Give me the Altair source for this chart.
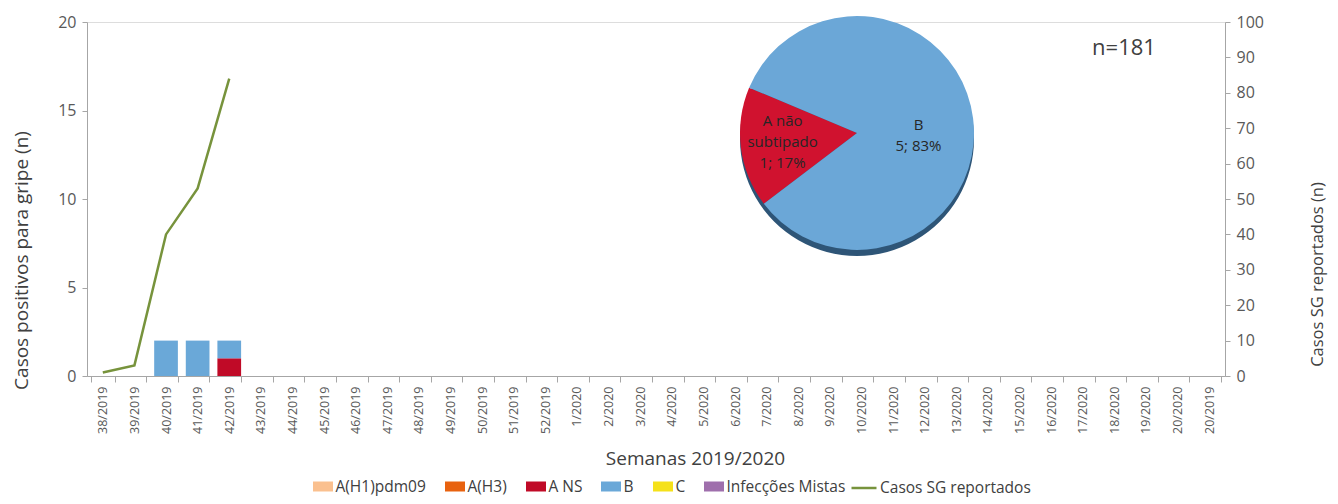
import altair as alt
import pandas as pd

# ---------------- data ----------------
semanas = ["38/2019", "39/2019", "40/2019", "41/2019", "42/2019", "43/2019", "44/2019",
           "45/2019", "46/2019", "47/2019", "48/2019", "49/2019", "50/2019", "51/2019",
           "52/2019", "1/2020", "2/2020", "3/2020", "4/2020", "5/2020", "6/2020", "7/2020",
           "8/2020", "9/2020", "10/2020", "11/2020", "12/2020", "13/2020", "14/2020",
           "15/2020", "16/2020", "17/2020", "18/2020", "19/2020", "20/2020", "20/2019"]

tipos = ["A(H1)pdm09", "A(H3)", "A NS", "B", "C", "Infecções Mistas"]
cores = ["#fac08f", "#e8620f", "#c00a27", "#6aa8d8", "#f5e11a", "#9f6fac"]

casos_a_ns = [0, 0, 0, 0, 1, 0, 0, 0, 0, 0, 0, 0, 0, 0, 0, 0, 0, 0,
              0, 0, 0, 0, 0, 0, 0, 0, 0, 0, 0, 0, 0, 0, 0, 0, 0, 0]
casos_b = [0, 0, 2, 2, 1, 0, 0, 0, 0, 0, 0, 0, 0, 0, 0, 0, 0, 0,
           0, 0, 0, 0, 0, 0, 0, 0, 0, 0, 0, 0, 0, 0, 0, 0, 0, 0]

sg_semanas = ["38/2019", "39/2019", "40/2019", "41/2019", "42/2019"]
sg_casos = [1, 3, 40, 53, 84]
sg_serie = "Casos SG reportados"
sg_cor = "#77933c"

pie_tipos = ["A NS", "B"]
pie_rotulos = ["A não\nsubtipado\n1; 17%", "B\n5; 83%"]
pie_valores = [1, 5]
pie_cores = ["#d0122f", "#6ba7d7"]
total_n = "n=181"

# ---------------- tables ----------------
rows = []
for s, a, b in zip(semanas, casos_a_ns, casos_b):
    if a:
        rows.append({"semana": s, "tipo": "A NS", "casos": a, "ordem": tipos.index("A NS")})
    if b:
        rows.append({"semana": s, "tipo": "B", "casos": b, "ordem": tipos.index("B")})
bar_df = pd.DataFrame(rows)
sg_df = pd.DataFrame({"semana": sg_semanas, "casos_sg": sg_casos, "serie": sg_serie})
pie_df = pd.DataFrame({"fatia": pie_tipos, "rotulo": pie_rotulos, "valor": pie_valores})

FONT = "Open Sans"
GRAY = "#a6a6a6"
LAB = "#595959"
TXT = "#404040"
RECT = "M-0.8,-0.4H0.8V0.4H-0.8Z"
LEG_Y = 452

color_scale = alt.Scale(domain=tipos, range=cores)
color_legend = alt.Legend(orient="none", legendX=223.5, legendY=LEG_Y, direction="horizontal",
                          title=None, symbolType=RECT, symbolSize=625,
                          symbolStrokeWidth=0, labelFontSize=15.5, labelColor=TXT,
                          labelFont=FONT, columnPadding=16, labelOffset=0)

x_enc = alt.X("semana:N", sort=semanas,
              scale=alt.Scale(domain=semanas, paddingInner=0.25, paddingOuter=0.125),
              axis=alt.Axis(title="Semanas 2019/2020", titleFontSize=19, titleFont=FONT,
                            titleFontWeight="normal", titleColor=TXT,
                            titleX=608, titleY=82, titleAlign="center", titleBaseline="middle",
                            labelAngle=270, labelFontSize=12.5, labelFont=FONT,
                            labelColor=LAB, labelPadding=4, tickBand="extent",
                            domainColor=GRAY, tickColor=GRAY, tickSize=6, grid=False))

bars = alt.Chart(bar_df).mark_bar().encode(
    x=x_enc,
    y=alt.Y("casos:Q", scale=alt.Scale(domain=[0, 20]),
            axis=alt.Axis(values=[0, 5, 10, 15, 20], title="Casos positivos para gripe (n)",
                          titleFontSize=19, titleFont=FONT, titleFontWeight="normal",
                          titleColor=TXT, titleX=-66, titleY=238, titleAngle=270,
                          titleAlign="center", titleBaseline="middle",
                          labelFontSize=16, labelFont=FONT, labelColor=LAB, labelPadding=6,
                          domainColor=GRAY, tickColor=GRAY, tickSize=5, grid=False)),
    color=alt.Color("tipo:N", scale=color_scale, legend=color_legend),
    order=alt.Order("ordem:Q"),
)

line = alt.Chart(sg_df).mark_line(strokeWidth=2.5).encode(
    x=x_enc,
    y=alt.Y("casos_sg:Q", scale=alt.Scale(domain=[0, 100]),
            axis=alt.Axis(orient="right", values=list(range(0, 101, 10)),
                          title="Casos SG reportados  (n)", titleFontSize=16.5, titleFont=FONT,
                          titleFontWeight="normal", titleColor=TXT, titleX=92, titleY=252,
                          titleAngle=270, titleAlign="center", titleBaseline="middle",
                          labelFontSize=16, labelFont=FONT, labelColor=LAB, labelPadding=6,
                          domainColor=GRAY, tickColor=GRAY, tickSize=5, grid=False)),
    stroke=alt.Stroke("serie:N", scale=alt.Scale(domain=[sg_serie], range=[sg_cor]),
                      legend=alt.Legend(orient="none", legendX=763, legendY=LEG_Y,
                                        title=None, symbolType="stroke", symbolSize=625,
                                        symbolStrokeWidth=2.5, labelFontSize=15.5,
                                        labelColor=TXT, labelFont=FONT, labelOffset=2)),
)

PX, PY, R = 770, 111, 117
theta_scale = alt.Scale(domain=[0, 6], range=[5.11, 5.11 + 6.28318])

shadow = alt.Chart(pd.DataFrame({"k": [0]})).mark_arc(
    radius=R, theta=0, theta2=6.28318, color="#2e5577"
).encode(x=alt.value(PX), y=alt.value(PY + 6))

pie = alt.Chart(pie_df).mark_arc(radius=R).encode(
    x=alt.value(PX), y=alt.value(PY),
    theta=alt.Theta("valor:Q", stack=True, scale=theta_scale),
    fill=alt.Fill("fatia:N", scale=alt.Scale(domain=pie_tipos, range=pie_cores), legend=None),
    order=alt.Order("fatia:N", sort="descending"),
)


def pie_label(fatia, r, dy):
    return alt.Chart(pie_df).transform_window(
        acum="sum(valor)", sort=[alt.SortField("fatia", order="descending")]
    ).transform_calculate(
        meio="datum.acum - datum.valor / 2"
    ).transform_filter(alt.datum.fatia == fatia).mark_text(
        lineBreak="\n", fontSize=15, lineHeight=21, font=FONT, color="#262626",
        baseline="middle", align="center", radius=r, dy=dy
    ).encode(
        x=alt.value(PX), y=alt.value(PY),
        theta=alt.Theta("meio:Q", stack=None, scale=theta_scale),
        text="rotulo:N",
    )


lab_b = pie_label("B", 62, 0)
lab_a = pie_label("A NS", 75, -21)

n_text = alt.Chart(pd.DataFrame({"t": [total_n]})).mark_text(
    fontSize=22, font=FONT, color=TXT, align="center", baseline="middle"
).encode(x=alt.value(1037), y=alt.value(26), text="t:N")

chart = alt.layer(bars, line, shadow, pie, lab_b, lab_a, n_text).resolve_scale(
    y="independent", fill="independent"
).properties(
    width=1138, height=354,
    autosize=alt.AutoSizeParams(type="none"),
    padding={"left": 79, "top": 14, "right": 105, "bottom": 123},
).configure_view(stroke=None).configure(background="white")

chart.save("out.html", embed_options={"renderer": "svg", "actions": False})
